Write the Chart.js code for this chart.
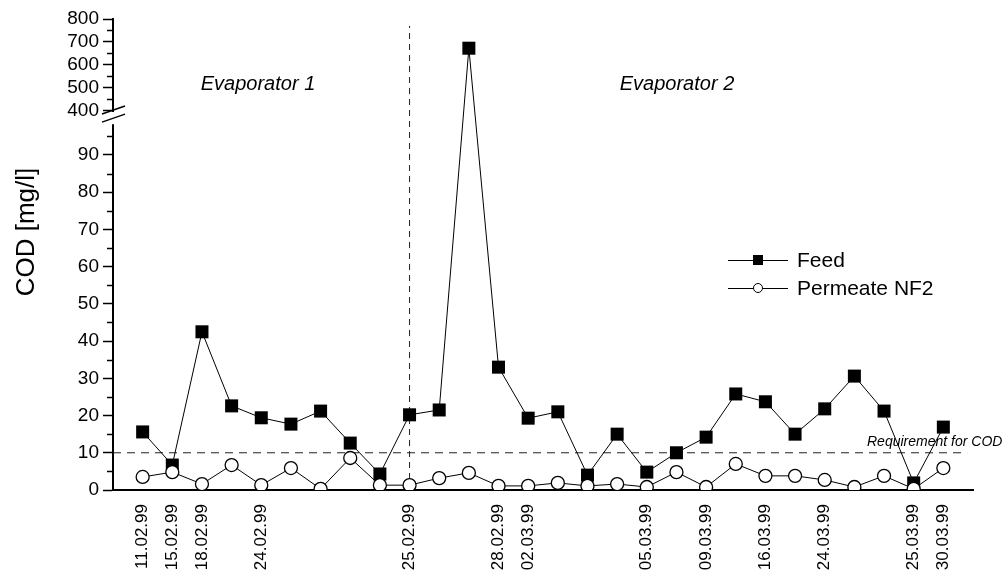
<!DOCTYPE html>
<html>
<head>
<meta charset="utf-8">
<script src="https://cdn.jsdelivr.net/npm/chart.js@4.4.0/dist/chart.umd.min.js"></script>
<style>
html,body{margin:0;padding:0;background:#fff}
</style>
</head>
<body>
<canvas id="c" width="1007" height="579"></canvas>
<script>
// sampling dates (only some are labelled on the axis)
const dates = ['11.02.99','15.02.99','18.02.99','','24.02.99','','','','','25.02.99','','','28.02.99','02.03.99','','','','05.03.99','','09.03.99','','16.03.99','','24.03.99','','','25.03.99','30.03.99']
const feed = [15.6, 6.7, 42.5, 22.6, 19.4, 17.7, 21.2, 12.6, 4.3, 20.2, 21.5, 673, 33, 19.3, 21, 4, 15, 4.8, 10, 14.2, 25.8, 23.7, 15, 21.8, 30.6, 21.2, 1.9, 16.9]
const permeate = [3.5, 4.8, 1.6, 6.7, 1.3, 5.9, 0.3, 8.6, 1.3, 1.3, 3.2, 4.6, 1.1, 1.1, 1.9, 1.1, 1.6, 0.8, 4.8, 0.8, 7, 3.8, 3.8, 2.7, 0.8, 3.8, 0.3, 5.9]
const yTicks = [0, 10, 20, 30, 40, 50, 60, 70, 80, 90, 400, 500, 600, 700, 800]
const yMinor = [5, 15, 25, 35, 45, 55, 65, 75, 85, 95, 450, 550, 650, 750]
const requirement = 10
const evapSwitch = 9 // index of 25.02.99

const FONT = "'Liberation Sans', Arial, sans-serif"

// linear axis with a gap between 98 and 400
class BrokenScale extends Chart.LinearScale {
	static id = 'broken'
	static defaults = {}
	buildTicks() { return yTicks.map(v => ({value: v})) }
	_frac(v) {
		const o = this.options
		if (v <= o.gapFrom) return v / o.gapFrom * o.fracFrom
		if (v >= o.gapTo) return o.fracTo + (v - o.gapTo) / (this.max - o.gapTo) * (1 - o.fracTo)
		return o.fracFrom + (v - o.gapFrom) / (o.gapTo - o.gapFrom) * (o.fracTo - o.fracFrom)
	}
	getPixelForValue(v) { return this.bottom - this._frac(v) * (this.bottom - this.top) }
	getValueForPixel(p) {
		const o = this.options, f = (this.bottom - p) / (this.bottom - this.top)
		if (f <= o.fracFrom) return f / o.fracFrom * o.gapFrom
		if (f >= o.fracTo) return o.gapTo + (f - o.fracTo) / (1 - o.fracTo) * (this.max - o.gapTo)
		return o.gapFrom + (f - o.fracFrom) / (o.fracTo - o.fracFrom) * (o.gapTo - o.gapFrom)
	}
}
Chart.register(BrokenScale)

const decor = {
	id: 'decor',
	afterDraw: c => {
		const ctx = c.ctx, y = c.scales.y
		ctx.save()
		ctx.fillStyle = '#000'
		ctx.strokeStyle = '#000'

		// minor ticks
		ctx.lineWidth = 1.5
		yMinor.forEach(v => {
			const p = Math.round(y.getPixelForValue(v)) + 0.5
			ctx.beginPath(); ctx.moveTo(y.right - 6, p); ctx.lineTo(y.right, p); ctx.stroke()
		})

		// axis break
		const b1 = y.getPixelForValue(98), b2 = y.getPixelForValue(400)
		ctx.fillStyle = '#fff'
		ctx.fillRect(y.right - 3, b2 + 1, 6, b1 - b2 - 2)
		ctx.lineWidth = 1.4
		ctx.beginPath()
		ctx.moveTo(y.right - 11, b2 + 3); ctx.lineTo(y.right + 12, b2 - 5)
		ctx.moveTo(y.right - 11, b1 - 3); ctx.lineTo(y.right + 12, b1 - 11)
		ctx.stroke()

		ctx.fillStyle = '#000'
		// axis title
		ctx.save()
		ctx.translate(27, 232)
		ctx.rotate(-Math.PI / 2)
		ctx.font = `26px ${FONT}`
		ctx.textAlign = 'center'
		ctx.textBaseline = 'middle'
		ctx.fillText('COD [mg/l]', 0, 0)
		ctx.restore()

		// annotations
		ctx.font = `italic 20px ${FONT}`
		ctx.textAlign = 'center'
		ctx.textBaseline = 'middle'
		ctx.fillText('Evaporator 1', 258, 84)
		ctx.fillText('Evaporator 2', 677, 84)
		ctx.font = `italic 14px ${FONT}`
		ctx.textAlign = 'left'
		ctx.fillText('Requirement for COD', 867, y.getPixelForValue(requirement) - 11)

		// legend
		const rows = [['Feed', 'rect'], ['Permeate NF2', 'circle']]
		rows.forEach((r, i) => {
			const ly = 260 + i * 28
			ctx.lineWidth = 1
			ctx.strokeStyle = '#000'
			ctx.beginPath(); ctx.moveTo(728, ly + 0.5); ctx.lineTo(788, ly + 0.5); ctx.stroke()
			if (r[1] === 'rect') {
				ctx.fillStyle = '#000'
				ctx.fillRect(753, ly - 5, 10, 10)
			} else {
				ctx.fillStyle = '#fff'
				ctx.beginPath(); ctx.arc(758, ly, 4.5, 0, Math.PI * 2); ctx.fill(); ctx.stroke()
			}
			ctx.fillStyle = '#000'
			ctx.font = `21px ${FONT}`
			ctx.textAlign = 'left'
			ctx.fillText(r[0], 797, ly + 1)
		})
		ctx.restore()
	}
}

new Chart(document.getElementById('c'), {
	type: 'line',
	plugins: [decor],
	data: {
		datasets: [{
			label: 'Permeate NF2',
			data: permeate.map((v, i) => ({x: i, y: v})),
			borderColor: '#000',
			borderWidth: 1,
			pointStyle: 'circle',
			pointRadius: 6.5,
			pointBackgroundColor: '#fff',
			pointBorderColor: '#000',
			pointBorderWidth: 1.3,
			order: 0,
		}, {
			label: 'Feed',
			data: feed.map((v, i) => ({x: i, y: v})),
			borderColor: '#000',
			borderWidth: 1,
			pointStyle: 'rect',
			pointRadius: 9.2,
			pointBackgroundColor: '#000',
			pointBorderColor: '#000',
			pointBorderWidth: 0,
			order: 1,
		}, {
			label: 'requirement',
			data: [{x: -1, y: requirement}, {x: 27.8, y: requirement}],
			borderColor: '#222',
			borderWidth: 1,
			borderDash: [8, 6],
			pointRadius: 0,
			order: 2,
		}, {
			label: 'switch',
			data: [{x: evapSwitch, y: 0}, {x: evapSwitch, y: 770}],
			borderColor: '#222',
			borderWidth: 1,
			borderDash: [6, 5],
			pointRadius: 0,
			order: 3,
		}]
	},
	options: {
		responsive: false,
		animation: false,
		layout: { padding: {top: 19, right: 34, left: 0, bottom: 0} },
		plugins: {
			legend: { display: false },
			tooltip: { enabled: false },
		},
		scales: {
			x: {
				type: 'linear',
				min: -1,
				max: 28,
				afterFit: s => { s.height = 89 },
				grid: { display: false },
				border: { display: true, color: '#000', width: 2 },
				ticks: {
					stepSize: 1,
					autoSkip: false,
					minRotation: 90,
					maxRotation: 90,
					padding: 6,
					color: '#000',
					font: { family: FONT, size: 17 },
					callback: v => dates[v] || '',
				},
			},
			y: {
				type: 'broken',
				min: 0,
				max: 800,
				gapFrom: 98,
				gapTo: 400,
				fracFrom: 0.7745,
				fracTo: 0.8047,
				afterFit: s => { s.width = 113 },
				grid: { drawOnChartArea: false, drawTicks: true, tickLength: 10, tickWidth: 1.5, tickColor: '#000' },
				border: { display: true, color: '#000', width: 2 },
				ticks: {
					padding: 4,
					color: '#000',
					font: { family: FONT, size: 19 },
					callback: v => v,
				},
			},
		},
	},
})
</script>
</body>
</html>
